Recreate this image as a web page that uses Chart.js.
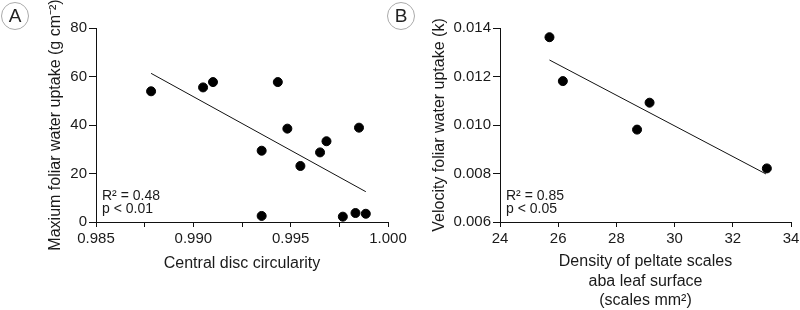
<!DOCTYPE html>
<html>
<head>
<meta charset="utf-8">
<script src="https://cdn.jsdelivr.net/npm/chart.js@4"></script>
<style>
  body { margin: 0; background: #fff; }
  #wrap { position: relative; width: 800px; height: 310px; overflow: hidden; }
  canvas { position: absolute; top: 0; }
  #chartA { left: 0; }
  #chartB { left: 400px; }
  .tag {
    position: absolute; top: 2px; width: 26px; height: 26px;
    border: 1px solid #aaa; border-radius: 50%;
    font: 19px "Liberation Sans", Arial, sans-serif; color: #222;
    text-align: center; line-height: 26px;
  }
</style>
</head>
<body>
<div id="wrap">
  <canvas id="chartA" width="420" height="310"></canvas>
  <canvas id="chartB" width="400" height="310"></canvas>
  <div class="tag" style="left:1px">A</div>
  <div class="tag" style="left:387px">B</div>
</div>
<script>
// panel A: circularity vs max uptake
const circA = [0.98783, 0.99050, 0.99101, 0.99434, 0.99483, 0.99351, 0.99351, 0.99550, 0.99651, 0.99684, 0.99768, 0.99833, 0.99851, 0.99886];
const uptakeA = [53.9, 55.5, 57.7, 57.7, 38.5, 29.4, 2.5, 23.1, 28.7, 33.3, 2.2, 3.7, 38.9, 3.4];
const fitAx = [0.98783, 0.99886];
const fitAy = [61.3, 12.5];
const statsA = ["R\u00b2 = 0.48", "p < 0.01"];

// panel B: scale density vs velocity
const densityB = [25.70, 26.16, 28.71, 29.14, 33.17];
const velocityB = [0.01362, 0.01181, 0.00981, 0.01092, 0.00821];
const fitBx = [25.70, 33.14];
const fitBy = [0.01268, 0.00798];
const statsB = ["R\u00b2 = 0.85", "p < 0.05"];

Chart.defaults.font.family = '"Liberation Sans", Arial, sans-serif';
Chart.defaults.color = "#1a1a1a";

const pts = (xs, ys) => xs.map((x, i) => ({ x: x, y: ys[i] }));

// draws the R2 / p text in the lower left of the plot area
const statsPlugin = {
  id: "stats",
  afterDraw(chart, args, opts) {
    const c = chart.ctx;
    const a = chart.chartArea;
    c.save();
    c.font = '14px "Liberation Sans", Arial, sans-serif';
    c.fillStyle = "#1a1a1a";
    c.textBaseline = "alphabetic";
    opts.lines.forEach((t, i) => c.fillText(t, a.left + 6, a.bottom - 22 + i * 13));
    c.restore();
  },
};

function axisX(min, max, step, fmt, title, titlePad) {
  return {
    type: "linear",
    min: min, max: max,
    border: { display: true, color: "#111", width: 1 },
    grid: { display: true, drawOnChartArea: false, drawTicks: true, tickLength: 5, color: "#111" },
    ticks: { stepSize: step, autoSkip: false, maxRotation: 0, padding: 3, font: { size: 15 }, callback: fmt },
    title: { display: true, text: title, font: { size: 16 }, padding: { top: 0, bottom: titlePad } },
    afterFit(s) { s.height = 88; s.paddingLeft = 0; s.paddingRight = 0; },
  };
}

function axisY(min, max, step, fmt, title, titlePad, w) {
  return {
    type: "linear",
    min: min, max: max,
    border: { display: true, color: "#111", width: 1 },
    grid: { display: true, drawOnChartArea: false, drawTicks: true, tickLength: 7, color: "#111" },
    ticks: { stepSize: step, autoSkip: false, padding: 2, font: { size: 15 }, callback: fmt },
    title: { display: true, text: title, font: { size: 16 }, padding: { top: titlePad, bottom: 0 } },
    afterFit(s) { s.width = w; s.paddingTop = 0; s.paddingBottom = 0; },
  };
}

function makeChart(id, xs, ys, fx, fy, xAxis, yAxis, pad, lines) {
  return new Chart(document.getElementById(id), {
    type: "scatter",
    data: {
      datasets: [
        {
          data: pts(xs, ys),
          backgroundColor: "#000",
          borderColor: "#000",
          pointRadius: 4.5,
          pointHoverRadius: 4.5,
        },
        {
          type: "line",
          data: pts(fx, fy),
          borderColor: "#111",
          borderWidth: 1,
          pointRadius: 0,
          fill: false,
        },
      ],
    },
    options: {
      responsive: false,
      animation: false,
      devicePixelRatio: 1,
      layout: { padding: pad },
      plugins: { legend: { display: false }, tooltip: { enabled: false }, stats: { lines: lines } },
      scales: { x: xAxis, y: yAxis },
    },
    plugins: [statsPlugin],
  });
}

makeChart(
  "chartA", circA, uptakeA, fitAx, fitAy,
  axisX(0.985, 1.0, 0.0025, (v) => (Math.round(v / 0.0025) % 2 === 0 ? v.toFixed(3) : ""), "Central disc circularity", 37),
  axisY(0, 80, 20, (v) => String(v), "Maxium foliar water uptake (g cm\u207b\u00b2)", 46, 96),
  { top: 28, right: 32, bottom: 0, left: 0 },
  statsA
);

makeChart(
  "chartB", densityB, velocityB, fitBx, fitBy,
  axisX(24, 34, 2, (v) => String(v), ["Density of peltate scales", "aba leaf surface", "(scales mm\u00b2)"], 0),
  axisY(0.006, 0.014, 0.002, (v) => v.toFixed(3), "Velocity foliar water uptake (k)", 30, 100),
  { top: 28, right: 9, bottom: 0, left: 0 },
  statsB
);
</script>
</body>
</html>
